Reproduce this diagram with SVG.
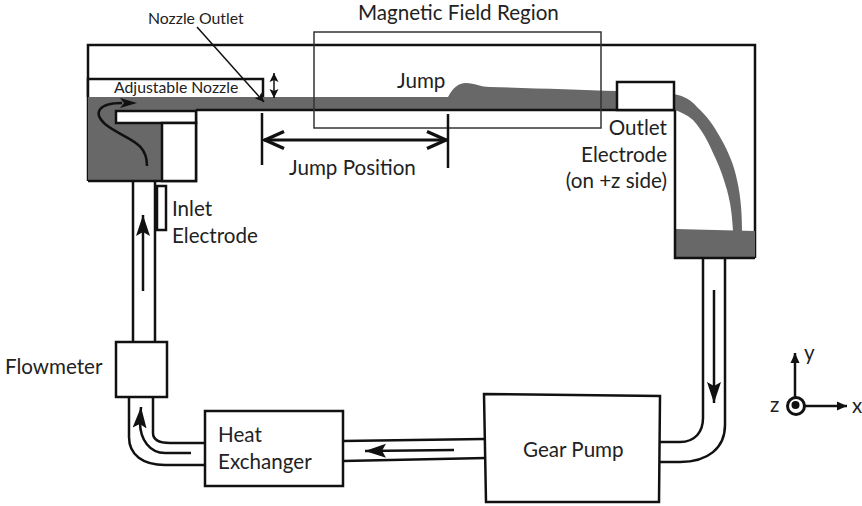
<svg xmlns="http://www.w3.org/2000/svg" width="862" height="506" viewBox="0 0 862 506">
<style>
text{font-family:"Lato","Noto Sans",sans-serif;fill:#222;font-size:20.600px}
.s{font-size:15.800px}
.b{fill:#fff;stroke:#111;stroke-width:2.5}
.l{fill:none;stroke:#111;stroke-width:2.5}
.d{fill:#686868;stroke:none}
.t{fill:none;stroke:#111;stroke-width:1.5}
</style>
<defs>
<marker id="open" markerUnits="userSpaceOnUse" markerWidth="24" markerHeight="22" refX="22" refY="11" orient="auto-start-reverse"><path d="M2 2.500L21 11L2 19.500" fill="none" stroke="#111" stroke-width="3.500"/></marker>
<marker id="small" markerUnits="userSpaceOnUse" markerWidth="12" markerHeight="12" refX="9" refY="6" orient="auto-start-reverse"><path d="M0 1.500L9 6L0 10.500L2 6Z" fill="#111"/></marker>
<marker id="solid" markerUnits="userSpaceOnUse" markerWidth="24" markerHeight="18" refX="21" refY="9" orient="auto"><path d="M0 2L21 9L0 16L4 9Z" fill="#111"/></marker>
<marker id="axis" markerUnits="userSpaceOnUse" markerWidth="12" markerHeight="12" refX="10" refY="6" orient="auto"><path d="M0 1.500L10 6L0 10.500Z" fill="#111"/></marker>
</defs>
<g id="tank"><path class="l" d="M88 181V45L755 45V258"/>
<path class="d" d="M88 96H264V97H448C453 88 458 83 466 83C475 83 480 87 490 87C530 88 580 90 617 91V110H196V123H162V181H88Z"/>
<path class="d" d="M674 94C685 96 692 101 697 107C707 116 714 126 720 137C729 153 734 165 737 180C741 197 742 215 742 231H733C732 215 731 205 727 190C723 176 719 165 713 153C708 141 702 130 693 120C687 115 681 112 675 110Z"/>
<path class="d" d="M675 229L755 231V258H675Z"/>
<path class="l" d="M88 181H196V110"/><path class="l" d="M675 110V258H755"/>
<path class="l" d="M196 110H675"/></g>
<g id="adjustable-nozzle"><path class="b" d="M88 97V79H263V97"/><text class="s" x="114" y="93">Adjustable Nozzle</text></g>
<g id="nozzle-insert"><rect class="b" x="116" y="111" width="80" height="12"/><rect class="b" x="162" y="123" width="34" height="58"/></g>
<g id="outlet-electrode"><rect class="b" x="617" y="82" width="57" height="28"/></g>
<g id="magnetic-field-region"><rect x="314" y="32" width="287" height="96" fill="none" stroke="#333" stroke-width="1.500"/><text x="358" y="20">Magnetic Field Region</text></g>
<g id="inlet-electrode"><rect class="b" x="157" y="186" width="9" height="44"/></g>
<g id="flowmeter"><rect class="b" x="116" y="342" width="51" height="55"/><text x="5" y="374">Flowmeter</text></g>
<g id="heat-exchanger"><rect class="b" x="205" y="411" width="138" height="75"/><text x="218" y="442">Heat</text><text x="218" y="469">Exchanger</text></g>
<g id="gear-pump"><path class="b" d="M484 394L660 396L659 502L486 502Z"/><text x="523" y="457">Gear Pump</text></g>
<g id="connectors">
<path class="l" d="M133 181V342M155 181V342"/>
<path class="l" d="M129 397V437C129 455 143 465 165 465H205M153 397V433C153 440 160 443 170 443H205"/>
<path class="l" d="M343 441L484 439M343 461L486 458"/>
<path class="l" d="M660 442H680C695 442 703 432 703 418V259M660 462H680C708 462 725 448 725 425V259"/>
<path class="l" d="M143 291V215" marker-end="url(#solid)"/>
<path class="l" d="M191 453H165C150 453 140 440 140 422L141 407" marker-end="url(#solid)"/>
<path class="l" d="M454 450L365 451" marker-end="url(#solid)"/>
<path class="l" d="M714 290V403" marker-end="url(#solid)"/>
<path d="M147 166C147 140 125 140 105 124C93 113 98 103 122 103" class="l"/><path d="M120 98L137 103L120 108L124 103Z" fill="#111"/>
<path class="l" d="M262 113V165M448 114V168"/>
<path d="M264 140H447" fill="none" stroke="#111" stroke-width="3" marker-start="url(#open)" marker-end="url(#open)"/>
<path class="t" d="M274 73V98" marker-start="url(#small)" marker-end="url(#small)"/>
<path class="t" d="M197 27L264 102" marker-end="url(#small)"/>
<path class="l" d="M795 400V353" marker-end="url(#axis)"/>
<path class="l" d="M805 406H847" marker-end="url(#axis)"/>
</g>
<g id="axes"><circle cx="796" cy="406" r="8.500" fill="#fff" stroke="#111" stroke-width="3"/><circle cx="795.500" cy="405" r="4" fill="#111"/><text x="804" y="360">y</text><text x="770" y="412">z</text><text x="852" y="413">x</text></g>
<g id="labels"><text class="s" x="148" y="24">Nozzle Outlet</text><text x="397" y="88">Jump</text><text x="289" y="175">Jump Position</text><text x="667" y="135" text-anchor="end">Outlet</text><text x="667" y="162" text-anchor="end">Electrode</text><text x="667" y="188" text-anchor="end">(on +z side)</text><text x="172" y="216">Inlet</text><text x="172" y="243">Electrode</text></g>
</svg>
